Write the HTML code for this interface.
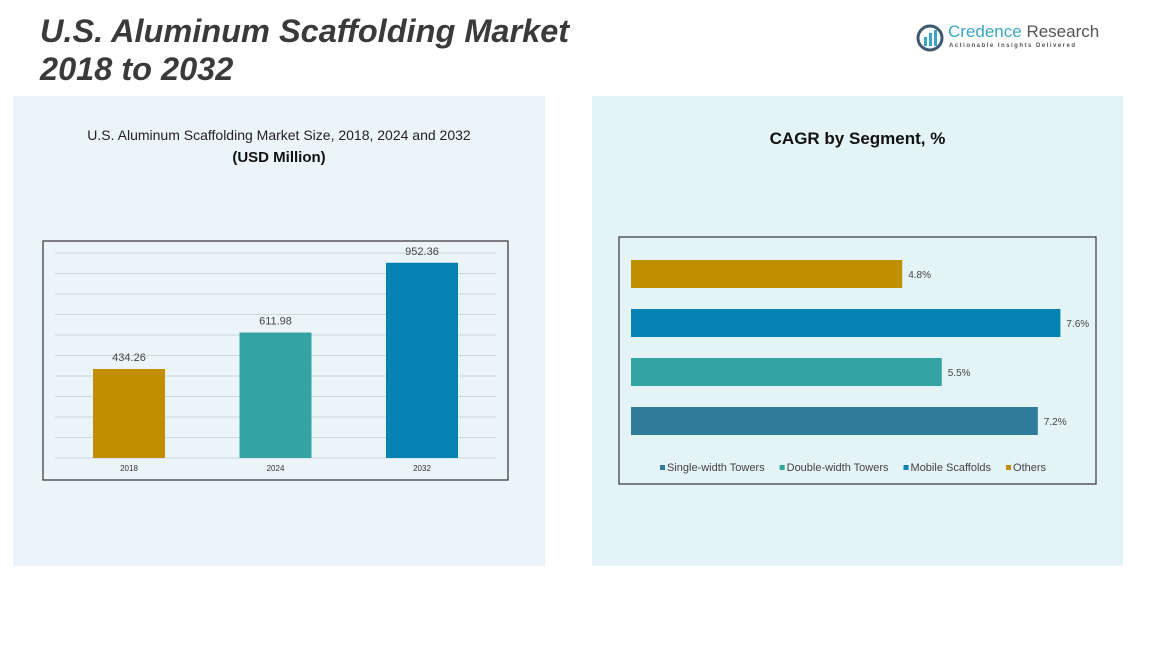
<!DOCTYPE html>
<html><head><meta charset="utf-8"><style>
body{margin:0;width:1158px;height:653px;background:#fff;position:relative;overflow:hidden;font-family:"Liberation Sans",sans-serif}
.abs{position:absolute}
</style></head><body>
<div class="abs" style="left:13px;top:96px;width:532px;height:470px;background:#EBF4F9"></div>
<div class="abs" style="left:592px;top:96px;width:531px;height:470px;background:#E4F3F5"></div>
<div class="abs" style="left:40px;top:12px;font-size:32.5px;font-weight:bold;font-style:italic;color:#3a3a3a;line-height:38px">U.S. Aluminum Scaffolding Market<br>2018 to 2032</div>
<div class="abs" style="left:916px;top:22px;width:190px;height:32px">
<svg width="28" height="28" style="position:absolute;left:0;top:2px"><circle cx="14" cy="14" r="12" fill="none" stroke="#3d5a6e" stroke-width="3"/><rect x="8" y="13" width="3" height="9" fill="#3aa6c4"/><rect x="13" y="9" width="3" height="13" fill="#3aa6c4"/><rect x="18" y="6" width="3" height="16" fill="#3aa6c4"/></svg>
<div class="abs" style="left:32px;top:0;font-size:17px;color:#3aa6c4;white-space:nowrap">Credence <span style="color:#555">Research</span></div>
<div class="abs" style="left:33px;top:21px;font-size:6px;letter-spacing:1.5px;color:#555;white-space:nowrap;font-weight:bold">Actionable Insights Delivered</div>
</div>
<div class="abs" style="left:13px;width:532px;top:127px;text-align:center;font-size:14px;color:#222">U.S. Aluminum Scaffolding Market Size, 2018, 2024 and 2032</div>
<div class="abs" style="left:13px;width:532px;top:149px;text-align:center;font-size:15px;font-weight:bold;color:#111">(USD Million)</div>
<div class="abs" style="left:592px;width:531px;top:129px;text-align:center;font-size:17px;font-weight:bold;color:#111">CAGR by Segment, %</div>
<svg class="abs" style="left:0;top:0" width="1158" height="653" id="svg"></svg>
<script>
const years=["2018","2024","2032"];
const sizes=[434.26,611.98,952.36];
const sizeColors=["#C08F00","#33A3A3","#0382B3"];
const segments=["Others","Mobile Scaffolds","Double-width Towers","Single-width Towers"];
const cagr=[4.8,7.6,5.5,7.2];
const segColors=["#C08F00","#0382B3","#33A3A3","#2E7B9A"];
const legendOrder=["Single-width Towers","Double-width Towers","Mobile Scaffolds","Others"];
const legendColors=["#2E7B9A","#33A3A3","#0382B3","#C08F00"];
const gridTicks=[0,100,200,300,400,500,600,700,800,900,1000];
const svg=document.getElementById('svg');
const NS="http://www.w3.org/2000/svg";
function mk(t,a,p){const e=document.createElementNS(NS,t);for(const k in a)e.setAttribute(k,a[k]);(p||svg).appendChild(e);return e;}
const box1=mk('rect',{x:43,y:241,width:465,height:239,fill:'none',stroke:'#333','stroke-width':1.2});


const y0=458,yk=0.205;
const ly=v=>y0-v*yk;
gridTicks.forEach(t=>{const l=mk('line',{x1:55,x2:496,y1:ly(t),y2:ly(t),stroke:'#cdd6dc','stroke-width':1});

});
const bx=i=>93+i*146.5;
years.forEach((y,i)=>{
const r=mk('rect',{x:bx(i),y:ly(sizes[i]),width:72,height:sizes[i]*yk,fill:sizeColors[i]});


const t=mk('text',{x:bx(i)+36,y:ly(sizes[i])-8,'text-anchor':'middle','font-size':11,fill:'#444'});t.textContent=sizes[i].toFixed(2);


const xl=mk('text',{x:bx(i)+36,y:471,'text-anchor':'middle','font-size':8,fill:'#333'});xl.textContent=y;


});
const box2=mk('rect',{x:619,y:237,width:477,height:247,fill:'none',stroke:'#333','stroke-width':1.2});


const x0=631,xk=56.5;
segments.forEach((s,i)=>{
const yy=260+i*49;
const r=mk('rect',{x:x0,y:yy,width:cagr[i]*xk,height:28,fill:segColors[i]});


const t=mk('text',{x:x0+cagr[i]*xk+6,y:yy+18,'font-size':10,fill:'#444'});t.textContent=cagr[i].toFixed(1)+'%';


});
let lx=660;
legendOrder.forEach((s,i)=>{
const g=mk('g',{});


mk('rect',{x:lx,y:465,width:5,height:5,fill:legendColors[i]},g);
const t=mk('text',{x:lx+7,y:471,'font-size':11,fill:'#444'},g);t.textContent=s;
lx+=t.getComputedTextLength()+22;
});
</script>
</body></html>
